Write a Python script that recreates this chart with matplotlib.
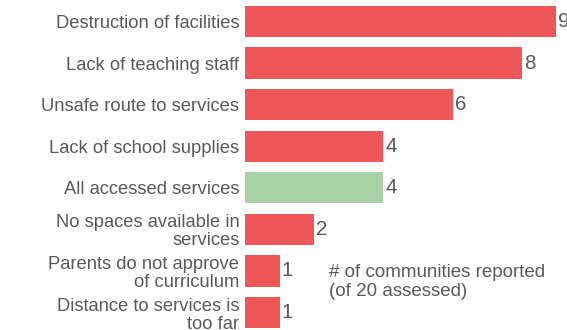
import matplotlib
matplotlib.use("Agg")
import matplotlib.pyplot as plt

categories = [
    "Destruction of facilities",
    "Lack of teaching staff",
    "Unsafe route to services",
    "Lack of school supplies",
    "All accessed services",
    "No spaces available in\nservices",
    "Parents do not approve\nof curriculum",
    "Distance to services is\ntoo far",
]
values = [9, 8, 6, 4, 4, 2, 1, 1]
colors = ["#EE5658", "#EE5658", "#EE5658", "#EE5658", "#A8D1A6", "#EE5658", "#EE5658", "#EE5658"]
note = "# of communities reported\n(of 20 assessed)"

plt.rcParams["font.family"] = ["Liberation Sans", "DejaVu Sans"]
text_color = "#595959"

fig = plt.figure(figsize=(5.67, 3.30), dpi=100)
ax = fig.add_axes([245 / 567, -3.3 / 330, 346 / 567, 332.6 / 330])

ypos = list(range(len(categories)))
ax.barh(ypos, values, height=0.75, color=colors)
ax.set_ylim(len(categories) - 0.5, -0.5)
ax.set_xlim(0, 10)
ax.set_yticks(ypos)
ax.set_yticklabels(categories, fontsize=13.2, color=text_color, linespacing=1.08)
ax.tick_params(axis="y", length=0, pad=4)
ax.set_xticks([])
for s in ax.spines.values():
    s.set_visible(False)

for y, v in zip(ypos, values):
    ax.text(v + 0.06, y, str(v), va="center", ha="left", fontsize=14.8, color=text_color)

fig.text(329 / 567, 1 - 282 / 330, note, fontsize=13.5, color=text_color,
         ha="left", va="center", linespacing=1.1)

fig.savefig("out.png", dpi=100)
